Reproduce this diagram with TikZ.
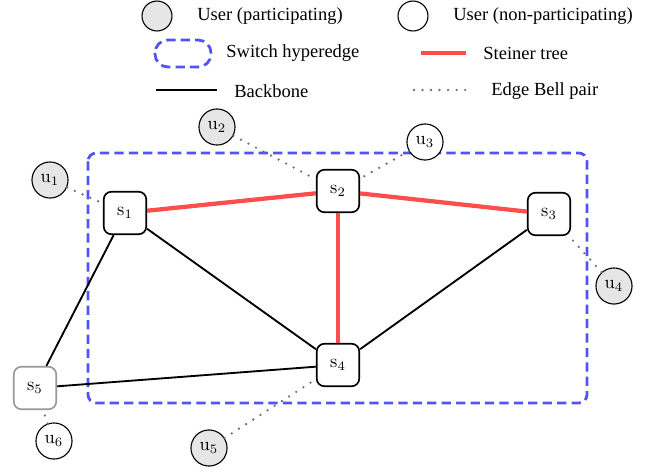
\documentclass[tikz,border=0pt]{standalone}
\usepackage[no-math]{fontspec}
\setmainfont{Liberation Serif}
\definecolor{hypblue}{RGB}{82,82,250}
\definecolor{treered}{RGB}{255,76,76}
\definecolor{partgray}{RGB}{230,230,230}
\tikzset{
  switch/.style={draw, line width=0.9pt, rounded corners=4.2pt, minimum size=23pt, inner sep=0pt, fill=white},
  user/.style={draw, circle, line width=0.6pt, minimum size=19.5pt, inner sep=0pt, fill=white},
  backbone/.style={line width=1pt},
  steiner/.style={line width=2.3pt, treered},
  bellpair/.style={line width=1.4pt, black!55, line cap=round, dash pattern=on 0pt off 4.6pt},
  hyperedge/.style={line width=1.5pt, hypblue, dash pattern=on 5pt off 2.8pt, rounded corners=4.5pt},
  legtext/.style={anchor=west, inner sep=0pt}
}
\begin{document}
\begin{tikzpicture}[x=0.019cm,y=-0.019cm]
			\useasboundingbox (0,0) rectangle (657,472);
			% legend
			\node[user, fill=partgray, minimum size=16.2pt] (lpart) at (157,16) {};
			\node[legtext] (tpart) at (197,16) {User (participating)};
			\node[user, minimum size=16.2pt] (lnon) at (413,16) {};
			\node[legtext] (tnon) at (453,16) {User (non-participating)};
			\draw[hyperedge, rounded corners=7pt] (155,40) rectangle (211,67);
			\node[legtext] (thyp) at (226,53) {Switch hyperedge};
			\coordinate (lr1) at (421,53);
			\coordinate (lr2) at (466,53);
			\draw[steiner] (lr1) -- (lr2);
			\node[legtext] (tst) at (483,53) {Steiner tree};
			\coordinate (lb1) at (156,90);
			\coordinate (lb2) at (217,90);
			\draw[backbone] (lb1) -- (lb2);
			\node[legtext] (tbb) at (234,91) {Backbone};
			\coordinate (ld1) at (414,90);
			\coordinate (ld2) at (470,90);
			\draw[bellpair] (ld1) -- (ld2);
			\node[legtext] (tbell) at (491,91) {Edge Bell pair};
			% switch hyperedge
			\draw[hyperedge] (88,153) rectangle (587,403);
			% switches
			\node[switch] (s1) at (125,213) {$\mathrm{s}_1$};
			\node[switch] (s2) at (338,191) {$\mathrm{s}_2$};
			\node[switch] (s3) at (549,214) {$\mathrm{s}_3$};
			\node[switch] (s4) at (338,365) {$\mathrm{s}_4$};
			\node[switch, draw=black!40] (s5) at (35,388) {$\mathrm{s}_5$};
			% users
			\node[user, fill=partgray] (u1) at (50,180) {$\mathrm{u}_1$};
			\node[user, fill=partgray] (u2) at (217,127) {$\mathrm{u}_2$};
			\node[user] (u3) at (425,142) {$\mathrm{u}_3$};
			\node[user, fill=partgray] (u4) at (614,286) {$\mathrm{u}_4$};
			\node[user, fill=partgray] (u5) at (209,448) {$\mathrm{u}_5$};
			\node[user] (u6) at (54,441) {$\mathrm{u}_6$};
			% links
			\draw[backbone] (s1) -- (s4);
			\draw[backbone] (s1) -- (s5);
			\draw[backbone] (s5) -- (s4);
			\draw[backbone] (s3) -- (s4);
			\draw[steiner] (s1) -- (s2);
			\draw[steiner] (s2) -- (s3);
			\draw[steiner] (s2) -- (s4);
			\draw[bellpair] (u1) -- (s1);
			\draw[bellpair] (u2) -- (s2);
			\draw[bellpair] (u3) -- (s2);
			\draw[bellpair] (u4) -- (s3);
			\draw[bellpair] (u5) -- (s4);
			\draw[bellpair] (u6) -- (s5);
		\end{tikzpicture}
\end{document}
